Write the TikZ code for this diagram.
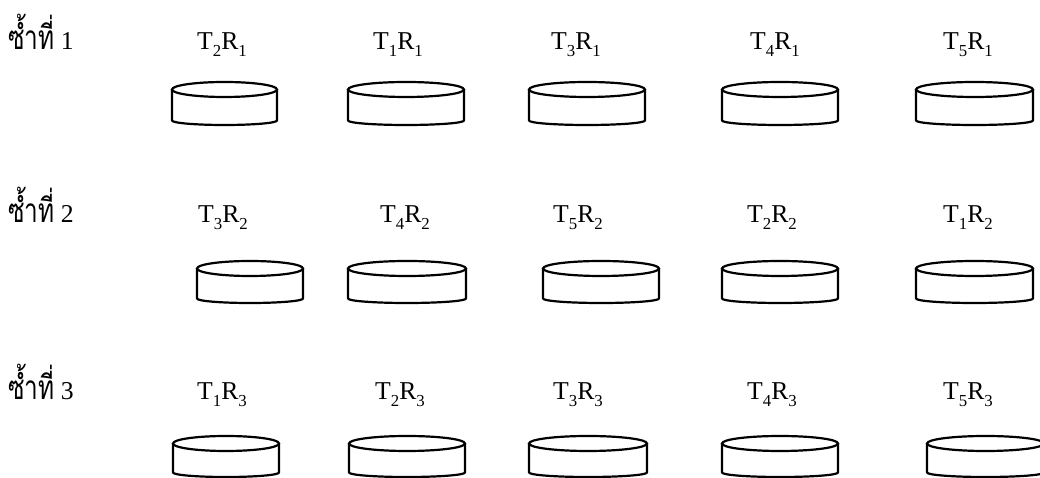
\documentclass[tikz,border=0pt]{standalone}
\usepackage{fontspec}
\setmainfont{Liberation Serif}
\newfontfamily\thaifont[Script=Thai]{Loma}
\newcommand\lowsub[1]{\raisebox{-7pt}{\fontsize{16.8}{16.8}\selectfont #1}}
\newcommand\trt[2]{T\lowsub{#1}R\lowsub{#2}}
\newcommand\repword{\scalebox{0.95}[1.3]{\thaifont ซ้ำที่}}
\begin{document}
\begin{tikzpicture}[x=1pt,y=1pt,
  lab/.style={anchor=base,inner sep=0pt,font=\fontsize{25.7}{30}\selectfont},
  reps/.style={anchor=base west,inner sep=0pt,font=\fontsize{25.7}{30}\selectfont},
  pics/dish/.style n args={2}{code={
    \draw[line width=2.2pt] (#1/2,-7.5) ellipse [x radius=#1/2, y radius=7.5];
    \draw[line width=2.2pt,line join=round] (0,-7.5) -- (0,-#2+4.5)
      arc[start angle=180, end angle=360, x radius=#1/2, y radius=4.5] -- (#1,-7.5);
  }}]
\useasboundingbox (0,0) rectangle (1040,478);

% row labels
\node[reps] (rep1) at (8,428) {\repword\ 1};
\node[reps] (rep2) at (8,255) {\repword\ 2};
\node[reps] (rep3) at (8,78)  {\repword\ 3};

% treatment labels, replicate 1
\node[lab] (a1) at (222,428) {\trt{2}{1}};
\node[lab] (a2) at (398,428) {\trt{1}{1}};
\node[lab] (a3) at (576,428) {\trt{3}{1}};
\node[lab] (a4) at (775,428) {\trt{4}{1}};
\node[lab] (a5) at (968,428) {\trt{5}{1}};
% replicate 2
\node[lab] (b1) at (223,255) {\trt{3}{2}};
\node[lab] (b2) at (405,255) {\trt{4}{2}};
\node[lab] (b3) at (578,255) {\trt{5}{2}};
\node[lab] (b4) at (772,255) {\trt{2}{2}};
\node[lab] (b5) at (968,255) {\trt{1}{2}};
% replicate 3
\node[lab] (c1) at (222,78) {\trt{1}{3}};
\node[lab] (c2) at (400,78) {\trt{2}{3}};
\node[lab] (c3) at (578,78) {\trt{3}{3}};
\node[lab] (c4) at (772,78) {\trt{4}{3}};
\node[lab] (c5) at (968,78) {\trt{5}{3}};

% dishes, replicate 1
\pic at (172,396) {dish={105}{43}};
\pic at (348,396) {dish={116}{43}};
\pic at (529,396) {dish={116}{43}};
\pic at (722,396) {dish={116}{43}};
\pic at (916,396) {dish={117}{43}};
% replicate 2
\pic at (197,217) {dish={106}{42}};
\pic at (348,217) {dish={118}{42}};
\pic at (543,217) {dish={116}{42}};
\pic at (722,217) {dish={116}{42}};
\pic at (916,217) {dish={117}{42}};
% replicate 3
\pic at (173,42) {dish={106}{41}};
\pic at (349,42) {dish={116}{41}};
\pic at (529,42) {dish={118}{41}};
\pic at (722,42) {dish={116}{41}};
\pic at (927,42) {dish={117}{41}};
\end{tikzpicture}
\end{document}
